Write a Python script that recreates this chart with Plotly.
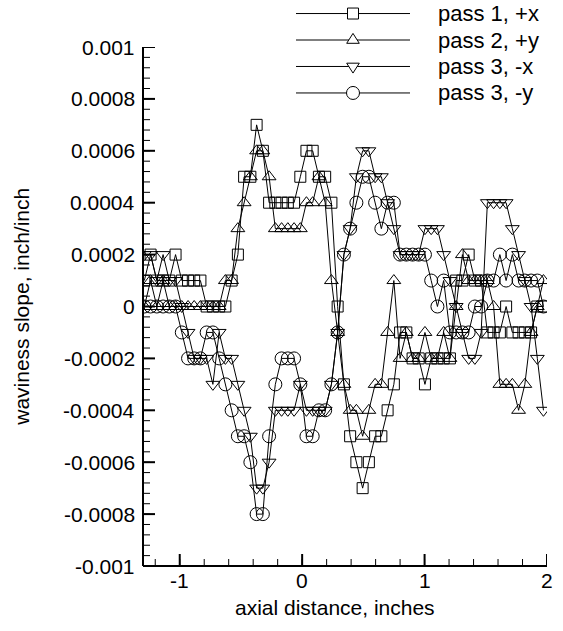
import plotly.graph_objects as go

# ---------------- data ----------------
# axial positions of the samples, inches
x_in = [-1.289, -1.238, -1.187, -1.136, -1.085, -1.034, -0.983, -0.932, -0.882, -0.831,
        -0.780, -0.729, -0.678, -0.627, -0.576, -0.525, -0.474, -0.423, -0.372, -0.321,
        -0.270, -0.219, -0.168, -0.117, -0.066, -0.015, 0.035, 0.086, 0.137, 0.188,
        0.239, 0.290, 0.341, 0.392, 0.443, 0.494, 0.545, 0.596, 0.647, 0.698,
        0.749, 0.800, 0.851, 0.902, 0.952, 1.003, 1.054, 1.105, 1.156, 1.207,
        1.258, 1.309, 1.360, 1.411, 1.462, 1.513, 1.564, 1.615, 1.666, 1.717,
        1.768, 1.819, 1.870, 1.921, 1.971]

# waviness slope, inch/inch
pass1_px = [0.0001, 0.0002, 0.0001, 0.0001, 0.0001, 0.0002, 0.0001, 0.0001, 0.0001, 0.0001,
            0.0, 0.0, 0.0, 0.0, 0.0001, 0.0002, 0.0005, 0.0005, 0.0007, 0.0006,
            0.0004, 0.0004, 0.0004, 0.0004, 0.0004, 0.0005, 0.0006, 0.0006, 0.0005, 0.0005,
            0.0004, 0.0, -0.0003, -0.0005, -0.0006, -0.0007, -0.0006, -0.0005, -0.0005, -0.0004,
            -0.0003, -0.0001, -0.0001, -0.0002, -0.0002, -0.0003, -0.0002, -0.0002, -0.0002, -0.0002,
            0.0001, 0.0001, 0.0002, 0.0001, 0.0001, -0.0001, -0.0001, -0.0001, 0.0, -0.0001,
            -0.0001, -0.0001, -0.0001, 0.0, 0.0]
pass2_py = [0.0, 0.0001, 0.0, 0.0001, 0.0, 0.0, 0.0, 0.0, 0.0, 0.0,
            0.0, 0.0, 0.0, 0.0001, 0.0001, 0.0003, 0.0004, 0.0005, 0.0006, 0.0006,
            0.0005, 0.0003, 0.0003, 0.0003, 0.0003, 0.0003, 0.0004, 0.0004, 0.0005, 0.0004,
            0.0001, -0.0001, -0.0003, -0.0004, -0.0004, -0.0005, -0.0004, -0.0003, -0.0003, -0.0001,
            0.0001, -0.0002, -0.0001, -0.0002, -0.0002, -0.0001, -0.0002, -0.0002, -0.0001, -0.0002,
            0.0, 0.0002, 0.0001, 0.0001, 0.0001, 0.0001, 0.0, -0.0003, -0.0003, -0.0003,
            -0.0004, -0.0003, -0.0001, 0.0, 0.0001]
pass3_mx = [0.0002, 0.0002, 0.0001, 0.0002, 0.0001, 0.0001, 0.0, -0.0001, -0.0002, -0.0002,
            -0.0002, -0.0003, -0.0001, -0.0002, -0.0002, -0.0003, -0.0004, -0.0005, -0.0007, -0.0007,
            -0.0006, -0.0004, -0.0004, -0.0004, -0.0004, -0.0003, -0.0004, -0.0004, -0.0004, -0.0004,
            -0.0003, -0.0001, 0.0002, 0.0003, 0.0005, 0.0006, 0.0006, 0.0005, 0.0005, 0.0004,
            0.0003, 0.0002, 0.0002, 0.0002, 0.0002, 0.0003, 0.0003, 0.0003, 0.0002, 0.0001,
            0.0, -0.0001, -0.0002, -0.0002, -0.0001, 0.0004, 0.0004, 0.0004, 0.0004, 0.0003,
            0.0002, 0.0001, 0.0, -0.0002, -0.0004]
pass3_my = [0.0, 0.0, 0.0, 0.0, 0.0, 0.0, -0.0001, -0.0002, -0.0002, -0.0002,
            -0.0001, -0.0001, -0.0002, -0.0003, -0.0004, -0.0005, -0.0005, -0.0006, -0.0008, -0.0008,
            -0.0005, -0.0003, -0.0002, -0.0002, -0.0002, -0.0003, -0.0005, -0.0005, -0.0004, -0.0004,
            -0.0003, -0.0001, 0.0002, 0.0003, 0.0004, 0.0005, 0.0005, 0.0004, 0.0003, 0.0004,
            0.0004, 0.0002, 0.0002, 0.0002, 0.0002, 0.0002, 0.0001, 0.0, 0.0001, -0.0001,
            -0.0001, -0.0001, -0.0001, 0.0, 0.0, 0.0001, 0.0001, 0.0002, 0.0001, 0.0002,
            0.0001, 0.0001, 0.0001, 0.0001, 0.0]

series_names = ["pass 1, +x", "pass 2, +y", "pass 3, -x", "pass 3, -y"]
series_values = [pass1_px, pass2_py, pass3_mx, pass3_my]

x_tick_vals = [-1, 0, 1, 2]
x_tick_text = ["-1", "0", "1", "2"]
y_tick_vals = [-0.001, -0.0008, -0.0006, -0.0004, -0.0002, 0.0, 0.0002, 0.0004, 0.0006, 0.0008, 0.001]
y_tick_text = ["-0.001", "-0.0008", "-0.0006", "-0.0004", "-0.0002", "0",
               "0.0002", "0.0004", "0.0006", "0.0008", "0.001"]
X_RANGE = [-1.3, 2.0]
Y_RANGE = [-0.001, 0.001]
X_MINOR = 0.2
Y_MINOR = 0.00004

# ---------------- layout constants (pixels) ----------------
W, H = 563, 631
PL, PR, PT, PB = 143, 547, 47, 566.5      # plot box
FONT = "Liberation Sans, Arial, sans-serif"
TICK_FS = 21
TITLE_FS = 21
LEG_FS = 22
symbols = ["square-open", "triangle-up-open", "triangle-down-open", "circle-open"]
glyphs = ["square", "tri-up", "tri-down", "circle"]
sizes = [11, 12, 12, 13]
LEG_X0, LEG_X1, LEG_XM, LEG_XT = 296, 410, 353, 436
LEG_Y0, LEG_DY = 13.5, 26.5
YLAB_RIGHT = 137      # right edge of y tick labels
XLAB_MID = 581        # vertical centre of x tick labels
MAJOR_LEN, MINOR_LEN = 12, 7


def px_x(p):
    """pixel x -> paper x (paper spans the plot box)"""
    return (p - PL) / (PR - PL)


def px_y(p):
    """pixel y -> paper y"""
    return (PB - p) / (PB - PT)


def frange(start, stop, step):
    n = int(round((stop - start) / step))
    return [round(start + i * step, 8) for i in range(n + 1)]


fig = go.Figure()
for name, vals, sym, sz in zip(series_names, series_values, symbols, sizes):
    fig.add_trace(go.Scatter(
        x=x_in, y=vals, mode="lines+markers", name=name, showlegend=False,
        line=dict(color="black", width=1),
        marker=dict(symbol=sym, size=sz, color="black", line=dict(color="black", width=1)),
    ))

shapes = []
annotations = []

# axis lines and inward ticks
per_px_v = 1 / (PB - PT)
per_px_h = 1 / (PR - PL)
for v in frange(-1.2, 2.0, X_MINOR):
    shapes.append(dict(type="line", xref="x", yref="paper", x0=v, x1=v, y0=0, y1=MINOR_LEN * per_px_v,
                       line=dict(color="black", width=1)))
for v in x_tick_vals:
    shapes.append(dict(type="line", xref="x", yref="paper", x0=v, x1=v, y0=0, y1=MAJOR_LEN * per_px_v,
                       line=dict(color="black", width=2)))
for v in frange(Y_RANGE[0], Y_RANGE[1], Y_MINOR):
    shapes.append(dict(type="line", xref="paper", yref="y", x0=0, x1=MINOR_LEN * per_px_h, y0=v, y1=v,
                       line=dict(color="black", width=1)))
for v in y_tick_vals:
    shapes.append(dict(type="line", xref="paper", yref="y", x0=0, x1=MAJOR_LEN * per_px_h, y0=v, y1=v,
                       line=dict(color="black", width=2)))
shapes.append(dict(type="line", xref="paper", yref="paper", x0=0, x1=0, y0=0, y1=1,
                   line=dict(color="black", width=2)))
shapes.append(dict(type="line", xref="paper", yref="paper", x0=0, x1=1, y0=0, y1=0,
                   line=dict(color="black", width=2)))

# custom legend: long line with a white-filled glyph in its middle
for i, (name, glyph, sz) in enumerate(zip(series_names, glyphs, sizes)):
    cy = LEG_Y0 + i * LEG_DY
    shapes.append(dict(type="line", xref="paper", yref="paper",
                       x0=px_x(LEG_X0), x1=px_x(LEG_X1), y0=px_y(cy), y1=px_y(cy),
                       line=dict(color="black", width=1)))
    r = sz / 2
    gl = dict(xref="paper", yref="paper", fillcolor="white", line=dict(color="black", width=1))
    if glyph == "square":
        gl.update(type="rect", x0=px_x(LEG_XM - r), x1=px_x(LEG_XM + r), y0=px_y(cy - r), y1=px_y(cy + r))
    elif glyph == "circle":
        gl.update(type="circle", x0=px_x(LEG_XM - r), x1=px_x(LEG_XM + r), y0=px_y(cy - r), y1=px_y(cy + r))
    else:
        hw = r * 1.05
        if glyph == "tri-up":
            pts = [(LEG_XM - hw, cy + 0.55 * r), (LEG_XM + hw, cy + 0.55 * r), (LEG_XM, cy - 1.1 * r)]
        else:
            pts = [(LEG_XM - hw, cy - 0.55 * r), (LEG_XM + hw, cy - 0.55 * r), (LEG_XM, cy + 1.1 * r)]
        path = "M " + " L ".join(f"{px_x(a):.5f},{px_y(b):.5f}" for a, b in pts) + " Z"
        gl.update(type="path", path=path)
    shapes.append(gl)
    annotations.append(dict(text=name, xref="paper", yref="paper", x=px_x(LEG_XT), y=px_y(cy),
                            xanchor="left", yanchor="middle", showarrow=False,
                            font=dict(family=FONT, size=LEG_FS, color="black")))

# tick labels (plain hyphen minus signs, as in the reference)
for v, t in zip(y_tick_vals, y_tick_text):
    annotations.append(dict(text=t, xref="paper", yref="y", x=px_x(YLAB_RIGHT), y=v,
                            xanchor="right", yanchor="middle", showarrow=False,
                            font=dict(family=FONT, size=TICK_FS, color="black")))
for v, t in zip(x_tick_vals, x_tick_text):
    annotations.append(dict(text=t, xref="x", yref="paper", x=v, y=px_y(XLAB_MID),
                            xanchor="center", yanchor="middle", showarrow=False,
                            font=dict(family=FONT, size=TICK_FS, color="black")))

# axis titles
annotations.append(dict(text="axial distance, inches", xref="paper", yref="paper",
                        x=px_x(334.5), y=px_y(608), xanchor="center", yanchor="middle",
                        showarrow=False, font=dict(family=FONT, size=TITLE_FS, color="black")))
annotations.append(dict(text="waviness slope, inch/inch", xref="paper", yref="paper",
                        x=px_x(22), y=px_y(307), xanchor="center", yanchor="middle", textangle=-90,
                        showarrow=False, font=dict(family=FONT, size=TITLE_FS, color="black")))

axis_style = dict(showline=False, showgrid=False, zeroline=False, showticklabels=False, ticks="")

fig.update_layout(
    width=W, height=H,
    margin=dict(l=PL, r=W - PR, t=PT, b=H - PB, pad=0),
    paper_bgcolor="white", plot_bgcolor="white", showlegend=False,
    xaxis=dict(range=X_RANGE, **axis_style),
    yaxis=dict(range=Y_RANGE, **axis_style),
    shapes=shapes, annotations=annotations,
)

fig.write_html("out.html")
